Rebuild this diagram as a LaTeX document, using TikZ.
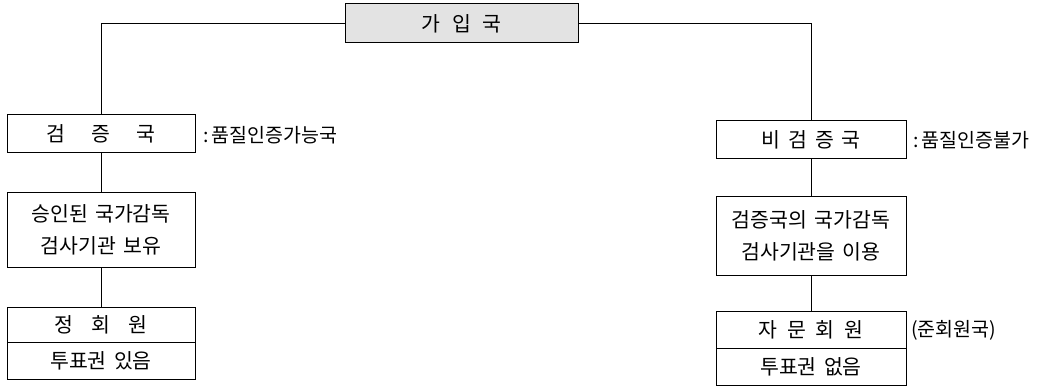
\documentclass[tikz,border=0pt]{standalone}
\usepackage{fontspec}
\newfontfamily\kr{Noto Sans CJK KR}
\newcommand{\gap}{\hspace{0.35em}}
\begin{document}
\begin{tikzpicture}[x=1pt,y=1pt,
  box/.style={draw=black,line width=1pt,rectangle,inner sep=0pt,align=center,
    font=\kr\fontsize{20.5}{32}\selectfont},
  lbl/.style={anchor=west,inner sep=0pt,font=\kr\fontsize{19.5}{22}\selectfont},
  conn/.style={draw=black,line width=1pt}]
\useasboundingbox (0,0) rectangle (1049,-390);
% top
\node[box,fill=gray!22,minimum width=233,minimum height=39] (top) at (461.5,-23.5) {가\hspace{12pt}입\hspace{12pt}국};
% left column
\node[box,minimum width=188,minimum height=38] (L1) at (101,-134) {검\hspace{26pt}증\hspace{26pt}국};
\node[box,minimum width=188,minimum height=74] (L2) at (101,-230) {승인된\gap 국가감독\\검사기관\gap 보유};
\node[box,minimum width=188,minimum height=35] (L3) at (101,-324.5) {정\hspace{18pt}회\hspace{18pt}원};
\node[box,minimum width=188,minimum height=37] (L4) at (101,-360.5) {투표권\gap 있음};
% right column
\node[box,minimum width=190,minimum height=38] (R1) at (811,-140) {비\hspace{8pt}검\hspace{8pt}증\hspace{8pt}국};
\node[box,minimum width=190,minimum height=78] (R2) at (811,-236) {검증국의\gap 국가감독\\검사기관을\gap 이용};
\node[box,minimum width=190,minimum height=37] (R3) at (811,-329.5) {자\hspace{10pt}문\hspace{10pt}회\hspace{10pt}원};
\node[box,minimum width=190,minimum height=37] (R4) at (811,-366.5) {투표권\gap 없음};
% labels
\node[lbl] (la) at (203,-135) {:\hspace{3pt}품질인증가능국};
\node[lbl] (lb) at (913,-140) {:\hspace{3pt}품질인증불가};
\node[lbl] (lc) at (911,-330) {(준회원국)};
% connectors
\draw[conn] (top.west) -| (L1.north);
\draw[conn] (top.east) -| (R1.north);
\draw[conn] (L1.south) -- (L2.north);
\draw[conn] (L2.south) -- (L3.north);
\draw[conn] (R1.south) -- (R2.north);
\draw[conn] (R2.south) -- (R3.north);
\end{tikzpicture}
\end{document}
